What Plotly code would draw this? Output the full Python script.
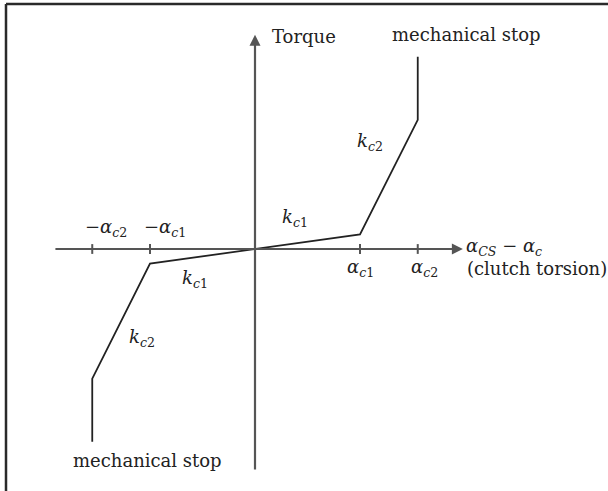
import plotly.graph_objects as go

# Piecewise-linear clutch characteristic (torque vs. clutch torsion)
alpha_c1 = 2.0
alpha_c2 = 3.1
curve_x = [-3.1, -3.1, -2.0, 0.0, 2.0, 3.1, 3.1]
curve_y = [-3.67, -2.47, -0.28, 0.0, 0.28, 2.46, 3.66]

# Tick marks on the torsion axis
tick_x = [-alpha_c2, -alpha_c1, alpha_c1, alpha_c2]
tick_labels_top = ["−<i>α</i><sub><i>c</i>2</sub>", "−<i>α</i><sub><i>c</i>1</sub>"]
tick_labels_bot = ["<i>α</i><sub><i>c</i>1</sub>", "<i>α</i><sub><i>c</i>2</sub>"]

# Axis extents
x_axis = [-3.83, 3.96]
y_axis = [-4.23, 4.08]

FONT = "DejaVu Serif"
TXT = "#222222"
AX = "#555555"

fig = go.Figure()

# torsion axis and torque axis (lines drawn with arrowheads)
fig.add_annotation(x=x_axis[1], y=0, ax=x_axis[0], ay=0,
                   xref="x", yref="y", axref="x", ayref="y",
                   showarrow=True, arrowhead=2, arrowsize=1.0,
                   arrowwidth=2.2, arrowcolor=AX, text="")
fig.add_annotation(x=0, y=y_axis[1], ax=0, ay=y_axis[0],
                   xref="x", yref="y", axref="x", ayref="y",
                   showarrow=True, arrowhead=2, arrowsize=1.0,
                   arrowwidth=2.2, arrowcolor=AX, text="")

# tick marks
fig.add_trace(go.Scatter(
    x=tick_x, y=[0] * len(tick_x), mode="markers",
    marker=dict(symbol="line-ns", size=7,
                line=dict(width=2, color=AX)),
    hoverinfo="skip", showlegend=False))

# characteristic curve
fig.add_trace(go.Scatter(
    x=curve_x, y=curve_y, mode="lines",
    line=dict(color="#222222", width=1.8),
    hoverinfo="skip", showlegend=False))


def label(x, y, text, xanchor="center", size=18):
    fig.add_annotation(x=x, y=y, xref="x", yref="y", text=text,
                       showarrow=False, xanchor=xanchor, yanchor="middle",
                       font=dict(family=FONT, size=size, color=TXT))


label(0.29, 4.04, "Torque", xanchor="left")
label(4.02, 4.08, "mechanical stop")
label(-2.04, -4.02, "mechanical stop")

label(2.19, 2.04, "<i>k</i><sub><i>c</i>2</sub>")
label(0.76, 0.59, "<i>k</i><sub><i>c</i>1</sub>")
label(-1.14, -0.57, "<i>k</i><sub><i>c</i>1</sub>")
label(-2.15, -1.70, "<i>k</i><sub><i>c</i>2</sub>")

label(-2.84, 0.40, tick_labels_top[0])
label(-1.71, 0.40, tick_labels_top[1])
label(2.01, -0.36, tick_labels_bot[0])
label(3.23, -0.36, tick_labels_bot[1])

label(3.98, 0.04, "<i>α</i><sub><i>CS</i></sub> − <i>α</i><sub><i>c</i></sub>", xanchor="left")
label(4.0, -0.38, "(clutch torsion)", xanchor="left")

# frame lines along the top and left edges
fig.add_shape(type="line", xref="paper", yref="paper",
              x0=6 / 608, x1=1.0, y0=1 - 4 / 491, y1=1 - 4 / 491,
              line=dict(color="#2a2a2a", width=2.5))
fig.add_shape(type="line", xref="paper", yref="paper",
              x0=6 / 608, x1=6 / 608, y0=0.0, y1=1 - 4 / 491,
              line=dict(color="#2a2a2a", width=2.5))

fig.update_layout(
    width=608, height=491,
    margin=dict(l=0, r=0, t=0, b=0),
    paper_bgcolor="white", plot_bgcolor="white",
    xaxis=dict(range=[-255 / 52.5, 353 / 52.5], visible=False, fixedrange=True),
    yaxis=dict(range=[-242 / 52.5, 249 / 52.5], visible=False, fixedrange=True),
    showlegend=False,
)

fig.write_html("out.html")
